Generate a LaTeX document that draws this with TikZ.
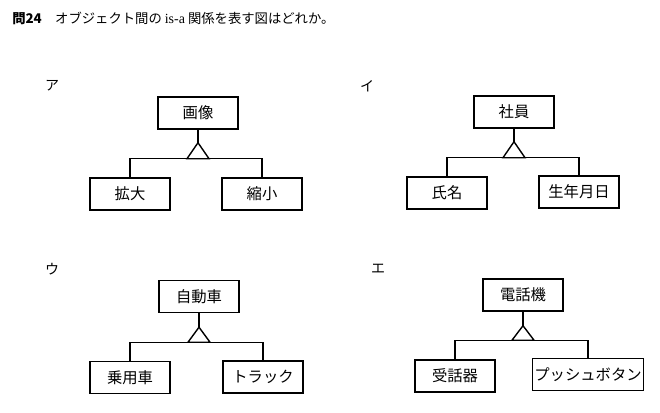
\documentclass[tikz,border=0pt]{standalone}
\usepackage{fontspec}
\newfontfamily\jp{Noto Sans CJK JP}
\newfontfamily\serifen{Liberation Serif}
\usetikzlibrary{calc}
\begin{document}
\begin{tikzpicture}[x=0.75pt,y=-0.75pt,
  box/.style={draw,line width=1.05pt,minimum width=60pt,minimum height=24pt,inner sep=0pt,font=\jp\fontsize{11.5}{13}\selectfont},
  lab/.style={font=\jp\fontsize{10.5}{12}\selectfont,inner sep=0pt},
  ln/.style={line width=1.05pt}]
\useasboundingbox (0,0) rectangle (660,412);
\node[anchor=west,inner sep=0pt] (title) at (12,18) {\jp\fontsize{10}{12}\selectfont\textbf{問24}　オブジェクト間の {\serifen\fontsize{10.5}{12}\selectfont is-a} 関係を表す図はどれか。};
% ア
\node[lab] (la) at (52,86) {ア};
\node[box] (p1) at (198,113) {画像};
\node[box] (l1) at (130,194) {拡大};
\node[box] (r1) at (262,194) {縮小};
\coordinate (a1) at ($(p1.south)+(0,13)$);
\coordinate (b1) at ($(a1)+(0,16)$);
\draw[ln] (p1.south) -- (a1);
\draw[ln] (a1) -- ++(-11,16) -- ++(22,0) -- cycle;
\draw[ln] (l1.north) |- (b1) -| (r1.north);
% イ
\node[lab] (lb) at (367,86) {イ};
\node[box] (p2) at (514,112) {社員};
\node[box] (l2) at (447,193) {氏名};
\node[box] (r2) at (579,192) {生年月日};
\coordinate (a2) at ($(p2.south)+(0,13)$);
\coordinate (b2) at ($(a2)+(0,16)$);
\draw[ln] (p2.south) -- (a2);
\draw[ln] (a2) -- ++(-11,16) -- ++(22,0) -- cycle;
\draw[ln] (l2.north) |- (b2) -| (r2.north);
% ウ
\node[lab] (lc) at (52,269) {ウ};
\node[box] (p3) at (199,296.5) {自動車};
\node[box] (l3) at (130,377.5) {乗用車};
\node[box] (r3) at (263,377) {トラック};
\coordinate (a3) at ($(p3.south)+(0,14)$);
\coordinate (b3) at ($(a3)+(0,15)$);
\draw[ln] (p3.south) -- (a3);
\draw[ln] (a3) -- ++(-11,15) -- ++(22,0) -- cycle;
\draw[ln] (l3.north) |- (b3) -| (r3.north);
% エ
\node[lab] (ld) at (378,269) {エ};
\node[box] (p4) at (523,295) {電話機};
\node[box] (l4) at (455,376) {受話器};
\node[box,minimum width=83pt] (r4) at (588,374.5) {プッシュボタン};
\coordinate (a4) at ($(p4.south)+(0,14)$);
\coordinate (b4) at ($(a4)+(0,14.5)$);
\draw[ln] (p4.south) -- (a4);
\draw[ln] (a4) -- ++(-11,14.5) -- ++(22,0) -- cycle;
\draw[ln] (l4.north) |- (b4) -| (r4.north);
\end{tikzpicture}
\end{document}
